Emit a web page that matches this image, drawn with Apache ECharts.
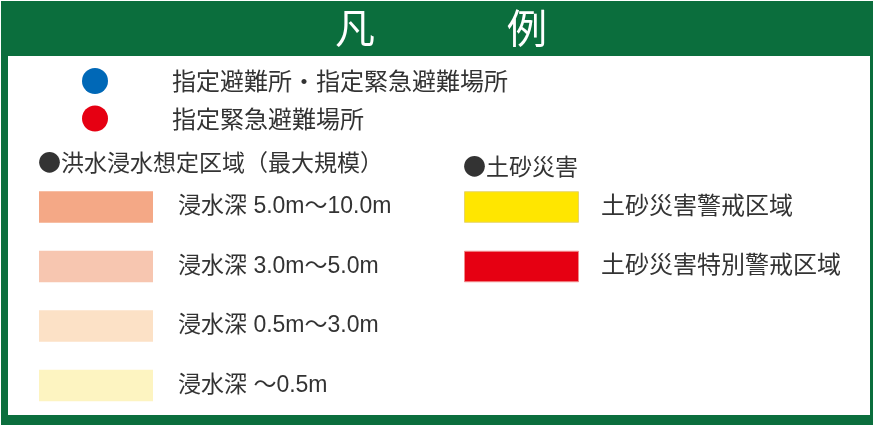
<!DOCTYPE html>
<html>
<head>
<meta charset="utf-8">
<script src="https://cdn.jsdelivr.net/npm/echarts@6/dist/echarts.min.js"></script>
<style>
html,body{margin:0;padding:0;background:#fff;}
#chart{width:874px;height:428px;}
</style>
</head>
<body>
<div id="chart"></div>
<script>
// ---- data ----
const titleChars = ['凡', '例'];
const shelterLabels = ['指定避難所・指定緊急避難場所', '指定緊急避難場所'];
const floodHeader = '●洪水浸水想定区域（最大規模）';
const floodLabels = ['浸水深 5.0m～10.0m', '浸水深 3.0m～5.0m', '浸水深 0.5m～3.0m', '浸水深 ～0.5m'];
const floodSwatch = [1, 1, 1, 1];
const sedimentHeader = '●土砂災害';
const sedimentLabels = ['土砂災害警戒区域', '土砂災害特別警戒区域'];
const sedimentSwatch = [1, 1];

// ---- styles ----
const shelterColors = ['#0068b7', '#e60012'];
const floodColors = ['#f4a886', '#f7c6b0', '#fce1c6', '#fdf4c1'];
const sedimentColors = ['#ffe600', '#e60012'];
const sedimentBorders = ['#e6d36a', '#f08a8a'];
const green = '#0b6e3d';
const textColor = '#333333';
const FONT = '"Liberation Sans", "Noto Sans CJK JP", sans-serif';
const CJK = '"Noto Sans CJK JP", sans-serif';
const LABEL_SIZE = 23;

const chart = echarts.init(document.getElementById('chart'), null, {renderer: 'canvas'});

const hiddenValueX = (gi) => ({
  type: 'value', gridIndex: gi, min: 0, max: 1, show: false
});
const labelY = (gi, data, margin, size, extra) => ({
  type: 'category', gridIndex: gi, data: data, inverse: true, position: 'right',
  axisLine: {show: false}, axisTick: {show: false}, splitLine: {show: false},
  axisLabel: Object.assign({margin: margin, color: textColor, fontSize: size, fontFamily: FONT, align: 'left'}, extra || {})
});

const option = {
  animation: false,
  backgroundColor: '#ffffff',
  graphic: [
    {type: 'rect', shape: {x: 1, y: 1, width: 872, height: 424}, style: {fill: green}, z: -10, silent: true},
    {type: 'rect', shape: {x: 8, y: 56, width: 862, height: 359}, style: {fill: '#ffffff'}, z: -9, silent: true}
  ],
  title: [
    {text: titleChars[0], left: 335, top: 6, padding: 0, textStyle: {color: '#fff', fontSize: 40, lineHeight: 44, fontFamily: CJK, fontWeight: 'normal'}},
    {text: titleChars[1], left: 507, top: 6, padding: 0, textStyle: {color: '#fff', fontSize: 40, lineHeight: 44, fontFamily: CJK, fontWeight: 'normal'}},
    {text: floodHeader, left: 38, top: 150.5, padding: 0, textStyle: {color: textColor, fontSize: LABEL_SIZE, lineHeight: 23, fontFamily: CJK, fontWeight: 'normal'}},
    {text: sedimentHeader, left: 463, top: 155, padding: 0, textStyle: {color: textColor, fontSize: LABEL_SIZE, lineHeight: 23, fontFamily: CJK, fontWeight: 'normal'}}
  ],
  grid: [
    {left: 82, width: 26, top: 62.25, height: 75},
    {left: 39, width: 114, top: 177.25, height: 238},
    {left: 464, width: 115, top: 177.25, height: 119}
  ],
  xAxis: [
    {type: 'category', gridIndex: 0, data: ['●'], show: false},
    hiddenValueX(1),
    hiddenValueX(2)
  ],
  yAxis: [
    labelY(0, shelterLabels, 64, 24, {verticalAlign: 'top', lineHeight: 5}),
    labelY(1, floodLabels, 25, 23),
    labelY(2, sedimentLabels, 22, 24)
  ],
  series: [
    {
      type: 'scatter', xAxisIndex: 0, yAxisIndex: 0, symbol: 'circle', symbolSize: 26,
      data: shelterLabels.map((l, i) => ({value: [0, i], itemStyle: {color: shelterColors[i], opacity: 1}}))
    },
    {
      type: 'bar', xAxisIndex: 1, yAxisIndex: 1, barWidth: 31.5,
      data: floodSwatch.map((v, i) => ({value: v, itemStyle: {color: floodColors[i]}}))
    },
    {
      type: 'bar', xAxisIndex: 2, yAxisIndex: 2, barWidth: 31.5,
      data: sedimentSwatch.map((v, i) => ({value: v, itemStyle: {color: sedimentColors[i], borderColor: sedimentBorders[i], borderWidth: 1}}))
    }
  ]
};
chart.setOption(option);
</script>
</body>
</html>
